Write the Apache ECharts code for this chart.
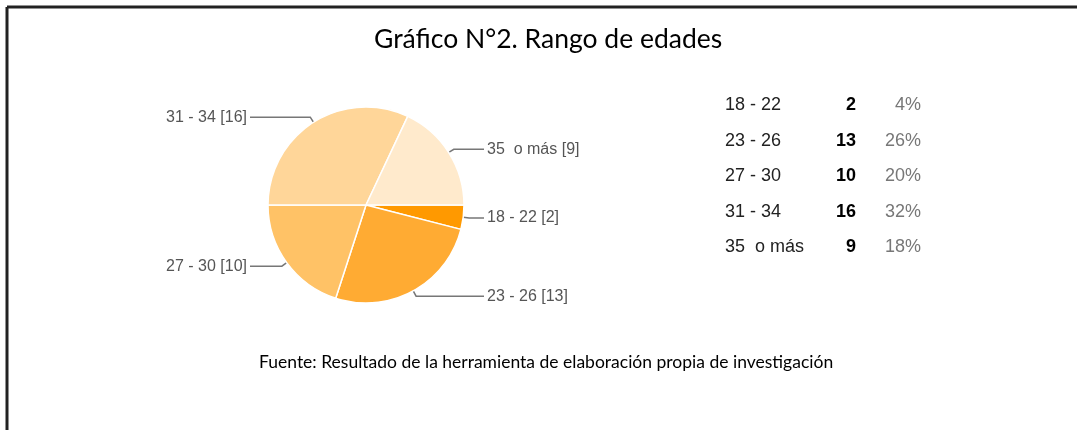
<!DOCTYPE html>
<html>
<head>
<meta charset="utf-8">
<script src="https://cdn.jsdelivr.net/npm/echarts@6/dist/echarts.min.js"></script>
<style>
html,body{margin:0;padding:0;background:#fff;}
#chart{width:1077px;height:430px;}
</style>
</head>
<body>
<div id="chart"></div>
<script>
const categories = ['18 - 22', '23 - 26', '27 - 30', '31 - 34', '35  o más'];
const counts = [2, 13, 10, 16, 9];
const colors = ['#FF9900', '#FFAB33', '#FFC266', '#FFD699', '#FFEACC'];
const titleText = 'Gráfico N°2. Rango de edades';
const sourceText = 'Fuente: Resultado de la herramienta de elaboración propia de investigación';

// layout constants
const CX = 366, CY = 205, R = 98, LEN = 6;
const LINE_END_LEFT = 250, LINE_END_RIGHT = 484;

const total = counts.reduce((a, b) => a + b, 0);
let cum = 0;
const pieData = categories.map((name, i) => {
  const mid = (cum + counts[i] / 2) / total * 2 * Math.PI;
  cum += counts[i];
  const x2 = CX + (R + LEN) * Math.cos(mid);
  const isLeft = Math.cos(mid) < 0;
  const len2 = isLeft ? x2 - LINE_END_LEFT : LINE_END_RIGHT - x2;
  return {
    name: name,
    value: counts[i],
    itemStyle: { color: colors[i] },
    labelLine: { length: LEN, length2: Math.max(2, len2) }
  };
});

const chart = echarts.init(document.getElementById('chart'));
chart.setOption({
  animation: false,
  title: {
    text: titleText,
    left: 369,
    top: 21,
    textStyle: { fontFamily: 'Lato', fontSize: 26.5, fontWeight: 'normal', color: '#000' }
  },
  legend: {
    orient: 'vertical',
    left: 715,
    top: 91,
    icon: 'none',
    itemWidth: 0,
    itemHeight: 18,
    itemGap: 17.6,
    selectedMode: false,
    data: categories,
    formatter: function (name) {
      const i = categories.indexOf(name);
      const pct = Math.round(counts[i] / total * 100) + '%';
      return '{a|' + name + '}{b|' + counts[i] + '}{c|' + pct + '}';
    },
    textStyle: {
      rich: {
        a: { width: 100, align: 'left', fontFamily: 'Liberation Sans', fontSize: 18, color: '#222' },
        b: { width: 31, align: 'right', fontFamily: 'Liberation Sans', fontSize: 18, fontWeight: 'bold', color: '#000' },
        c: { width: 65, align: 'right', fontFamily: 'Liberation Sans', fontSize: 18, color: '#777' }
      }
    }
  },
  graphic: [
    { type: 'line', shape: { x1: 7, y1: 7, x2: 1077, y2: 7 }, style: { stroke: '#222', lineWidth: 3 } },
    { type: 'line', shape: { x1: 7, y1: 7, x2: 7, y2: 430 }, style: { stroke: '#222', lineWidth: 3 } },
    {
      type: 'text', left: 259, top: 353,
      style: { text: sourceText, font: '17.5px Lato', fill: '#000' }
    }
  ],
  series: [{
    type: 'pie',
    center: [CX, CY],
    radius: R,
    startAngle: 0,
    clockwise: true,
    avoidLabelOverlap: false,
    data: pieData,
    itemStyle: { borderColor: '#fff', borderWidth: 1.5 },
    emphasis: { disabled: true },
    label: {
      show: true,
      position: 'outside',
      alignTo: 'none',
      distanceToLabelLine: 3,
      formatter: '{b} [{c}]',
      fontFamily: 'Liberation Sans',
      fontSize: 16,
      color: '#555'
    },
    labelLine: { show: true, lineStyle: { color: '#777', width: 1.5 } }
  }]
});
</script>
</body>
</html>
